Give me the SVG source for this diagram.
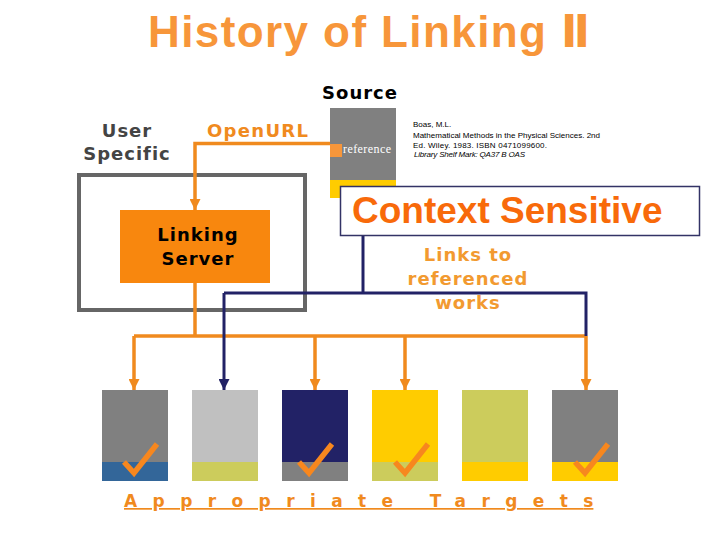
<svg xmlns="http://www.w3.org/2000/svg" width="720" height="540" viewBox="0 0 720 540">
<style>
.v{font-family:"DejaVu Sans",Verdana,sans-serif;font-weight:bold;font-size:18px;letter-spacing:1px}
.t{font-family:"Liberation Sans",Arial,sans-serif;font-weight:bold}
.cite{font-family:"Liberation Sans",Arial,sans-serif;font-size:8px;fill:#000}
.or{stroke:#F08A1E;stroke-width:3.5;fill:none}
.nv{stroke:#222266;stroke-width:3;fill:none}
.chk{stroke:#F7871E;stroke-width:5.5;fill:none;stroke-linejoin:miter}
</style>
<defs>
<marker id="ao" markerUnits="userSpaceOnUse" markerWidth="11" markerHeight="11" refX="11" refY="5.5" orient="auto"><path d="M0,0 L11,5.5 L0,11 z" fill="#F08A1E"/></marker>
<marker id="an" markerUnits="userSpaceOnUse" markerWidth="11" markerHeight="11" refX="11" refY="5.5" orient="auto"><path d="M0,0 L11,5.5 L0,11 z" fill="#222266"/></marker>
</defs>
<rect width="720" height="540" fill="#fff"/>
<text id="title" class="t" x="148" y="47" font-size="44" fill="#F7963A" textLength="442" lengthAdjust="spacing">History of Linking <tspan font-family="'DejaVu Sans',sans-serif" font-weight="bold" font-size="44">Ⅱ</tspan></text>

<g id="user-specific">
<rect x="79" y="175" width="226" height="135" fill="none" stroke="#666666" stroke-width="4"/>
<text class="v" fill="#444444" text-anchor="middle" x="127" y="137">User</text>
<text class="v" fill="#444444" text-anchor="middle" x="127" y="160">Specific</text>
</g>

<g id="source">
<text class="v" fill="#000" text-anchor="middle" x="360" y="99">Source</text>
<rect x="330" y="108" width="66" height="72" fill="#808080"/>
<rect x="330" y="180" width="66" height="18" fill="#FFCC00"/>
<rect x="330" y="144" width="12" height="13" fill="#F7963A"/>
<text x="343" y="153" font-family="'Liberation Serif','Times New Roman',serif" font-size="12" fill="#fff" textLength="48" lengthAdjust="spacing">reference</text>
<text class="cite" x="413" y="127">Boas, M.L.</text>
<text class="cite" x="413" y="138" textLength="187" lengthAdjust="spacing">Mathematical Methods in the Physical Sciences. 2nd</text>
<text class="cite" x="413" y="147.5" textLength="134" lengthAdjust="spacing">Ed. Wiley. 1983. ISBN 0471099600.</text>
<text class="cite" x="414" y="157" font-style="italic" textLength="111" lengthAdjust="spacing">Library Shelf Mark: QA37 B OAS</text>
</g>

<g id="openurl-label"><text class="v" fill="#F08A20" x="207" y="137" style="letter-spacing:1.3px">OpenURL</text></g>

<g id="connectors">
<path class="or" d="M330,143.5 H195 V210" marker-end="url(#ao)"/>
<path class="or" d="M195,283 V336"/>
<path class="or" d="M134,336 H586"/>
<path class="or" d="M134,336 V390" marker-end="url(#ao)"/>
<path class="or" d="M315,336 V390" marker-end="url(#ao)"/>
<path class="or" d="M405,336 V390" marker-end="url(#ao)"/>
<path class="or" d="M586,336 V390" marker-end="url(#ao)"/>
<path class="nv" d="M363,236 V293"/>
<path class="nv" d="M224,293 H586 V336"/>
<path class="nv" d="M224,293 V390" marker-end="url(#an)"/>
</g>

<g id="linking-server">
<rect x="120" y="210" width="150" height="73" fill="#F8870E"/>
<text class="v" fill="#000" text-anchor="middle" x="198" y="241">Linking</text>
<text class="v" fill="#000" text-anchor="middle" x="198" y="265">Server</text>
</g>

<g id="context-sensitive">
<rect x="340.5" y="186.5" width="359" height="49" fill="#fff" stroke="#333366" stroke-width="1.5"/>
<text class="t" x="352" y="223" font-size="37" fill="#F86A0A">Context Sensitive</text>
</g>

<g id="links-label">
<text class="v" fill="#F29A30" text-anchor="middle" x="468" y="261">Links to</text>
<text class="v" fill="#F29A30" text-anchor="middle" x="468" y="285">referenced</text>
<text class="v" fill="#F29A30" text-anchor="middle" x="468" y="309">works</text>
</g>

<g id="target1"><rect x="102" y="390" width="66" height="72" fill="#808080"/><rect x="102" y="462" width="66" height="19" fill="#336699"/><path class="chk" d="M124,462 L134,473 L157,444"/></g>
<g id="target2"><rect x="192" y="390" width="66" height="72" fill="#C0C0C0"/><rect x="192" y="462" width="66" height="19" fill="#CCCC5C"/></g>
<g id="target3"><rect x="282" y="390" width="66" height="72" fill="#222266"/><rect x="282" y="462" width="66" height="19" fill="#808080"/><path class="chk" d="M299,462 L309,473 L332,444"/></g>
<g id="target4"><rect x="372" y="390" width="66" height="72" fill="#FFCC00"/><rect x="372" y="462" width="66" height="19" fill="#CCCC5C"/><path class="chk" d="M395,462 L405,473 L428,444"/></g>
<g id="target5"><rect x="462" y="390" width="66" height="72" fill="#CCCC5C"/><rect x="462" y="462" width="66" height="19" fill="#FFCC00"/></g>
<g id="target6"><rect x="552" y="390" width="66" height="72" fill="#808080"/><rect x="552" y="462" width="66" height="19" fill="#FFCC00"/><path class="chk" d="M575,462 L585,473 L608,444"/></g>

<g id="targets-label"><text class="v" fill="#F08A1E" x="124" y="507" style="font-size:17px;letter-spacing:15.4px" text-decoration="underline">Appropriate Target<tspan style="letter-spacing:0px">s</tspan></text></g>
</svg>
